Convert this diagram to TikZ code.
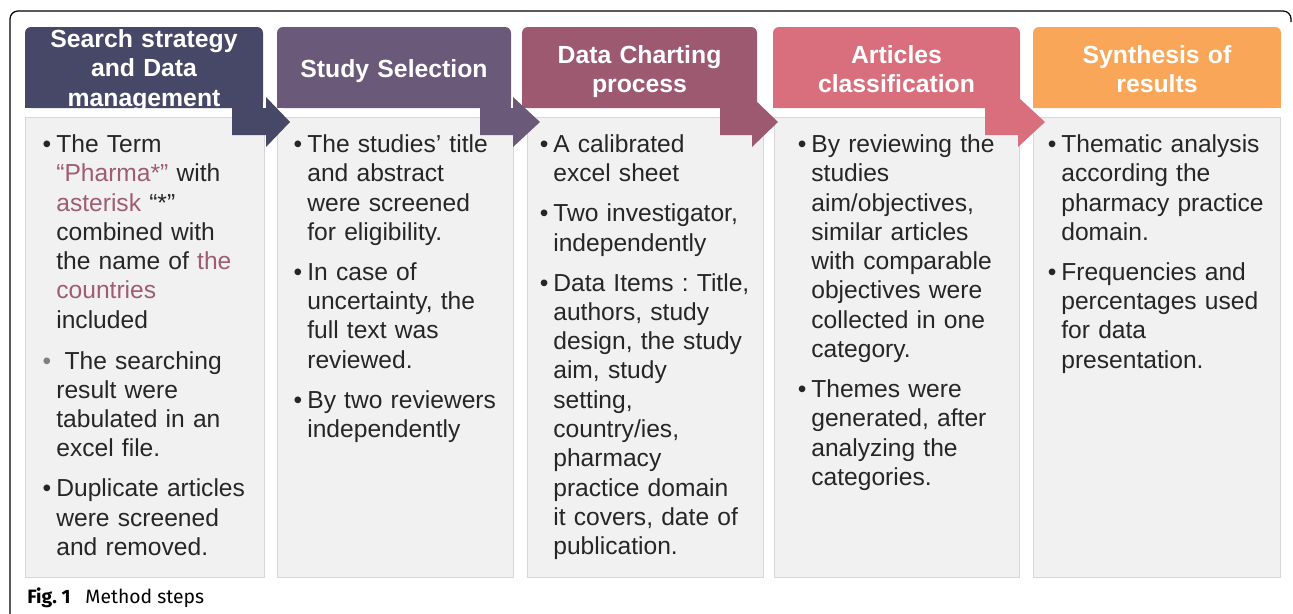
\documentclass[tikz,border=0pt]{standalone}
\usepackage{fontspec}
\setmainfont{Liberation Sans}
\newfontfamily\capfont{Fira Sans}
\usetikzlibrary{fit}
\frenchspacing

\definecolor{hdrA}{RGB}{71,72,103}
\definecolor{hdrB}{RGB}{106,89,121}
\definecolor{hdrC}{RGB}{157,89,111}
\definecolor{hdrD}{RGB}{217,111,124}
\definecolor{hdrE}{RGB}{249,166,89}
\definecolor{mauve}{RGB}{160,92,117}
\definecolor{bodygray}{RGB}{241,241,241}
\definecolor{bodyline}{RGB}{215,215,215}
\definecolor{bodyink}{RGB}{38,38,38}

\newcommand\bpt{\makebox[0pt][r]{\textbullet\hspace{0.1cm}}}

\begin{document}
\begin{tikzpicture}[x=0.02cm,y=-0.02cm]
        \tikzstyle{hdrbox}=[rectangle,rounded corners=3.4pt,inner sep=0pt,outer sep=0pt]
        \tikzstyle{bodybox}=[rectangle,fill=bodygray,draw=bodyline,line width=0.55pt,inner sep=0pt,outer sep=0pt]
        \tikzstyle{hdrtext}=[anchor=base,text width=4.4cm,align=center,inner sep=0pt,text=white,font=\fontsize{14.1pt}{16.8pt}\selectfont\bfseries]
        \tikzstyle{bodytext}=[anchor=base west,text width=4.6cm,align=left,inner sep=0pt,text=bodyink,font=\fontsize{14pt}{16.67pt}\selectfont]
        \useasboundingbox (0,0) rectangle (1293,613);

        % outer frame
        \draw[line width=0.7pt,rounded corners=4.5pt] (10,614) -- (10,11) -- (1291,11) -- (1291,22);

        % step bodies
        \foreach \i/\xa/\xb in {1/25/264, 2/277/513, 3/527/763, 4/774/1019, 5/1033/1280}
                \node[bodybox,fit={(\xa,117) (\xb,577)}] (B-\i) {};

        % step headers
        \foreach \i/\xa/\xb/\yb/\col/\ttl in {1/25/263/47/hdrA/{Search strategy\\and Data\\management},
                                              2/277/511/77/hdrB/{Study Selection},
                                              3/522/757/63/hdrC/{Data Charting\\process},
                                              4/773/1020/63/hdrD/{Articles\\classification},
                                              5/1033/1281/63/hdrE/{Synthesis of\\results}}
        {
                \node[hdrbox,fill=\col,fit={(\xa,27) (\xb,108)}] (H-\i) {};
                \fill[\col] (H-\i.west) rectangle (H-\i.south east);
                \begin{scope}
                        \clip (H-\i.north west) rectangle (H-\i.south east);
                        \node[hdrtext] (L-\i) at ({(\xa+\xb)/2},\yb) {\ttl};
                \end{scope}
        }

        % block arrows between the steps
        \foreach \i/\xa/\xb/\xc/\col in {1/232/266/290/hdrA, 2/480/513/540/hdrB, 3/720/752/778/hdrC, 4/985/1018/1045/hdrD}
                \fill[\col] (\xa,108) -- (\xb,108) -- (\xb,97) -- (\xc,122) -- (\xb,147) -- (\xb,135) -- (\xa,135) -- cycle;

        % step contents
        \node[bodytext] (T-1) at (56,152.5) {\bpt The Term\\
                \textcolor{mauve}{“Pharma*”} with\\
                \textcolor{mauve}{asterisk} “*”\\
                combined with\\
                the name of \textcolor{mauve}{the}\\
                \textcolor{mauve}{countries}\\
                included\\[6.6pt]
                {\color{gray}\bpt}\ The searching\\
                result were\\
                tabulated in an\\
                excel file.\\[6.1pt]
                \bpt Duplicate articles\\
                were screened\\
                and removed.};
        \node[bodytext] (T-2) at (307,152.5) {\bpt The studies’ title\\
                and abstract\\
                were screened\\
                for eligibility.\\[6.1pt]
                \bpt In case of\\
                uncertainty, the\\
                full text was\\
                reviewed.\\[6.1pt]
                \bpt By two reviewers\\
                independently};
        \node[bodytext] (T-3) at (553,152.5) {\bpt A calibrated\\
                excel sheet\\[6.1pt]
                \bpt Two investigator,\\
                independently\\[6.1pt]
                \bpt Data Items : Title,\\
                authors, study\\
                design, the study\\
                aim, study\\
                setting,\\
                country/ies,\\
                pharmacy\\
                practice domain\\
                it covers, date of\\
                publication.};
        \node[bodytext] (T-4) at (811,152.5) {\bpt By reviewing the\\
                studies\\
                aim/objectives,\\
                similar articles\\
                with comparable\\
                objectives were\\
                collected in one\\
                category.\\[6.1pt]
                \bpt Themes were\\
                generated, after\\
                analyzing the\\
                categories.};
        \node[bodytext] (T-5) at (1061,152.5) {\bpt Thematic analysis\\
                according the\\
                pharmacy practice\\
                domain.\\[6.1pt]
                \bpt Frequencies and\\
                percentages used\\
                for data\\
                presentation.};

        % caption
        \node[anchor=base west,inner sep=0pt,font=\capfont\fontsize{11pt}{13pt}\selectfont] (cap) at (27,603) {\textbf{Fig. 1}\hspace{0.3cm}Method steps};
\end{tikzpicture}
\end{document}
